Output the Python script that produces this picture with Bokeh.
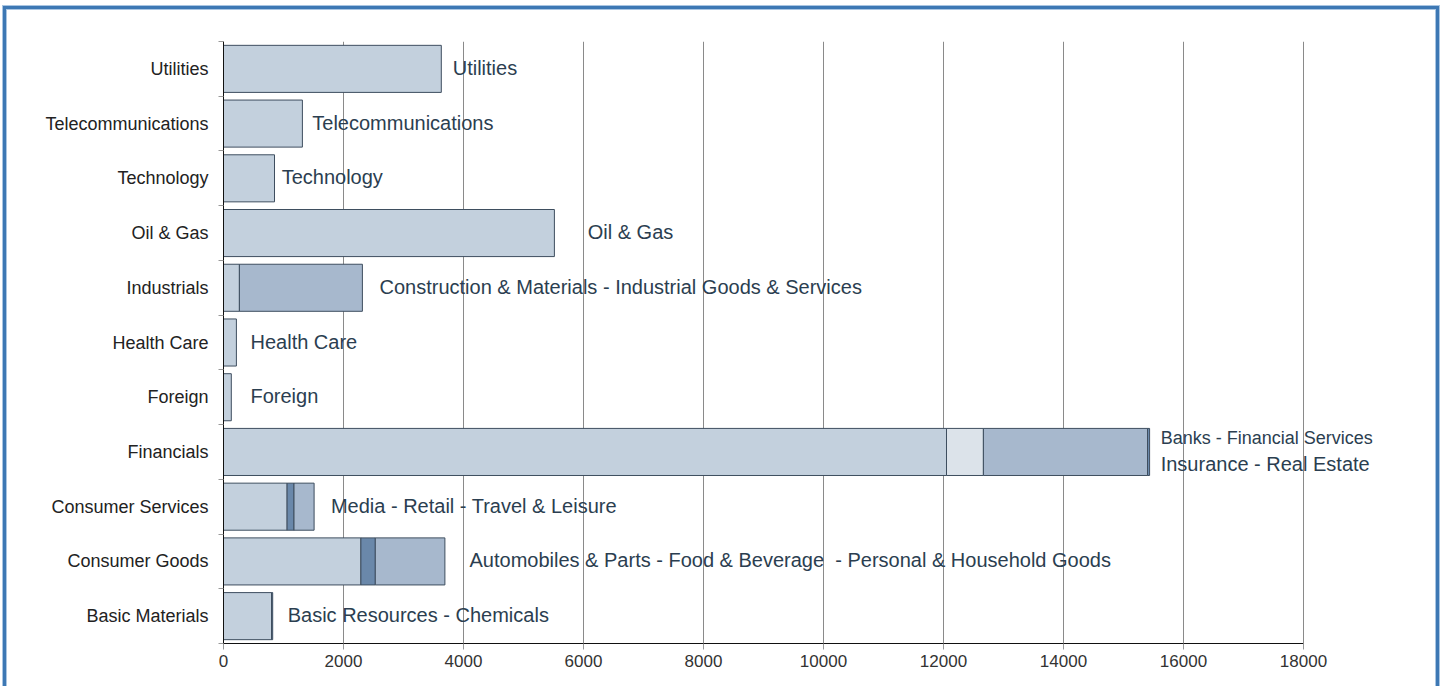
from bokeh.plotting import figure
from bokeh.models import ColumnDataSource, Range1d, FixedTicker, LabelSet
from bokeh.core.properties import value
from bokeh.embed import file_html
from bokeh.resources import INLINE

# Sectors, bottom to top
categories = ["Basic Materials", "Consumer Goods", "Consumer Services", "Financials",
              "Foreign", "Health Care", "Industrials", "Oil & Gas", "Technology",
              "Telecommunications", "Utilities"]

# Stacked sub-sector segments (sector, value)
seg_sector = ["Basic Materials", "Basic Materials",
              "Consumer Goods", "Consumer Goods", "Consumer Goods",
              "Consumer Services", "Consumer Services", "Consumer Services",
              "Financials", "Financials", "Financials", "Financials",
              "Foreign", "Health Care",
              "Industrials", "Industrials",
              "Oil & Gas", "Technology", "Telecommunications", "Utilities"]
seg_value = [800, 20,
             2290, 240, 1160,
             1060, 115, 335,
             12050, 615, 2735, 35,
             130, 215,
             265, 2050,
             5515, 850, 1315, 3630]

# Bar labels and their x position (data units)
label_text = ["Basic Resources - Chemicals",
              "Automobiles & Parts - Food & Beverage\u00a0 - Personal & Household Goods",
              "Media - Retail - Travel & Leisure",
              "Banks - Financial Services\nInsurance - Real Estate",
              "Foreign", "Health Care",
              "Construction & Materials - Industrial Goods & Services",
              "Oil & Gas", "Technology", "Telecommunications", "Utilities"]
label_x = [1070, 4100, 1790, 15620, 450, 450, 2600, 6070, 970, 1480, 3820]

x_ticks = [0, 2000, 4000, 6000, 8000, 10000, 12000, 14000, 16000, 18000]
x_max = 18000

# ---- styles (kept apart from data) ----
LIGHT, LIGHTER, MED, DARK = "#c3d0dd", "#dce3ea", "#a7b8cd", "#6a88aa"
seg_fill = [LIGHT, DARK,
            LIGHT, DARK, MED,
            LIGHT, DARK, MED,
            LIGHT, LIGHTER, MED, DARK,
            LIGHT, LIGHT,
            LIGHT, MED,
            LIGHT, LIGHT, LIGHT, LIGHT]

# compute stacked extents
idx = {c: i for i, c in enumerate(categories)}
lefts, rights, ys = [], [], []
running = {c: 0 for c in categories}
for s, v in zip(seg_sector, seg_value):
    lefts.append(running[s])
    running[s] += v
    rights.append(running[s])
    ys.append(idx[s] + 0.5)

src = ColumnDataSource(dict(y=ys, left=lefts, right=rights, fill=seg_fill))

# label rows: multi-line labels split into separate lines (first line a bit smaller)
lx, ly, lt, loff, lsize = [], [], [], [], []
for i, (t, x) in enumerate(zip(label_text, label_x)):
    lines = t.split("\n")
    n = len(lines)
    for k, line in enumerate(lines):
        lx.append(x)
        ly.append(i + 0.5)
        lt.append(line)
        loff.append(1 + 13 * (n - 1 - 2 * k))
        lsize.append("18px" if (n > 1 and k == 0) else "20px")
lab_src = ColumnDataSource(dict(x=lx, y=ly, text=lt, yoff=loff, size=lsize))

# The frame runs a little past 18000 so the long Financials label is not clipped;
# axis line is bounded to 0..18000.
FRAME_LEFT, AXIS_RIGHT, FRAME_RIGHT = 223, 1303, 1425
x_end = x_max * (FRAME_RIGHT - FRAME_LEFT) / (AXIS_RIGHT - FRAME_LEFT)

p = figure(width=1445, height=686, output_backend="svg", toolbar_location=None,
           x_range=Range1d(0, x_end), y_range=Range1d(0, len(categories)),
           min_border_left=FRAME_LEFT, min_border_right=1445 - FRAME_RIGHT,
           min_border_top=41, min_border_bottom=43)
p.outline_line_color = None
p.background_fill_color = "white"
p.border_fill_color = "white"

p.hbar(y="y", left="left", right="right", height=0.86, source=src,
       fill_color="fill", line_color="#3e4e5f", line_width=1)

labels = LabelSet(x="x", y="y", text="text", source=lab_src, text_align="left",
                  text_baseline="middle", text_font=value("Liberation Sans"),
                  text_font_size="size", text_color="#2b3e50", y_offset="yoff")
p.add_layout(labels)

# grid
p.ygrid.visible = False
p.xgrid.grid_line_color = "#8a8a8a"
p.xgrid.grid_line_width = 1

# x axis
xa = p.xaxis[0]
xa.ticker = FixedTicker(ticks=x_ticks)
xa.bounds = (0, x_max)
xa.major_tick_in = 0
xa.major_tick_out = 6
xa.major_tick_line_color = "#999999"
xa.minor_tick_line_color = None
xa.axis_line_color = "#111111"
xa.major_label_text_font = "Liberation Sans"
xa.major_label_text_font_size = "17px"
xa.major_label_text_color = "#333333"
xa.major_label_standoff = 5

# y axis: labels at centers, ticks at boundaries
ya = p.yaxis[0]
centers = [i + 0.5 for i in range(len(categories))]
ya.ticker = FixedTicker(ticks=centers, minor_ticks=list(range(len(categories) + 1)))
ya.major_label_overrides = {c: name for c, name in zip(centers, categories)}
ya.major_tick_line_color = None
ya.minor_tick_in = 0
ya.minor_tick_out = 5
ya.minor_tick_line_color = "#999999"
ya.axis_line_color = "#111111"
ya.major_label_text_font = "Liberation Sans"
ya.major_label_text_font_size = "18px"
ya.major_label_text_color = "#222222"
ya.major_label_standoff = 9

template = """
{% block postamble %}
<style>
  body::after {
    content: "";
    position: fixed;
    left: 3px;
    top: 6px;
    width: 1436px;
    height: 720px;
    box-sizing: border-box;
    border: 3px solid #3d78b4;
    box-shadow: inset 0 0 0 1px #a9c5e2, 0 0 0 1px #a9c5e2;
    pointer-events: none;
  }
</style>
{% endblock %}
"""

open("out.html", "w").write(file_html(p, INLINE, template=template))
